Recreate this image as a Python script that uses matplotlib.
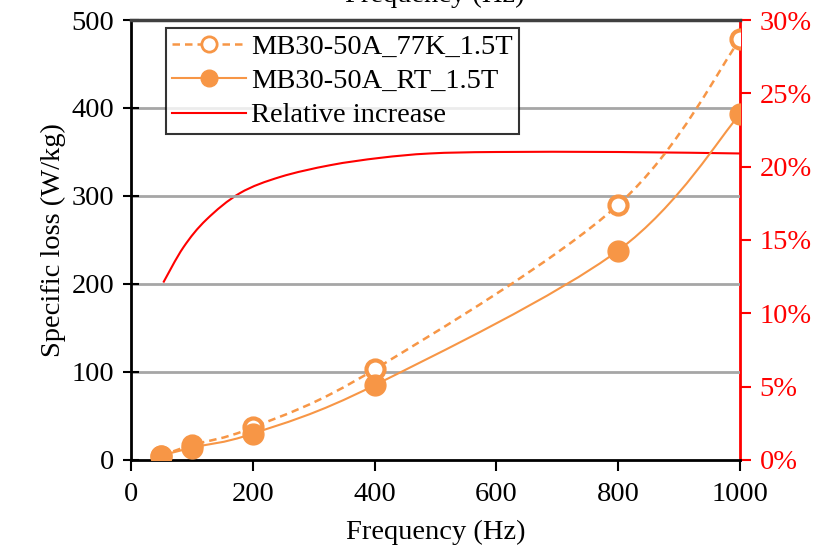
import matplotlib
matplotlib.use("Agg")
import matplotlib.pyplot as plt
from matplotlib.path import Path
from matplotlib.patches import PathPatch
from matplotlib.lines import Line2D
from matplotlib.ticker import FuncFormatter, MultipleLocator
import numpy as np

plt.rcParams['font.family'] = ['Liberation Serif', 'DejaVu Serif']

# data
freq = [50, 100, 200, 400, 800, 1000]
loss_77k = [5, 17, 37, 103, 290, 478]
loss_rt = [5, 14, 30, 85, 238, 393]

rel_freq = [53, 86, 124, 179, 245, 327, 409, 491, 600, 800, 1000]
rel_inc = [12.1, 14.5, 16.4, 18.2, 19.3, 20.1, 20.6, 20.9, 21.0, 21.0, 20.9]

ORANGE = '#F79646'
RED = '#FF0000'
FS = 20.5


def smooth_path(x, y):
    # excel style smoothed line (bezier through points)
    p = np.column_stack([x, y]).astype(float)
    n = len(p)
    verts = [p[0]]
    codes = [Path.MOVETO]
    for i in range(n - 1):
        p0 = p[i - 1] if i > 0 else p[i]
        p3 = p[i + 2] if i + 2 < n else p[i + 1]
        c1 = p[i] + (p[i + 1] - p0) / 6.0
        c2 = p[i + 1] - (p3 - p[i]) / 6.0
        verts += [c1, c2, p[i + 1]]
        codes += [Path.CURVE4] * 3
    return Path(verts, codes)


fig = plt.figure(figsize=(8.21, 5.48), dpi=100)
ax = fig.add_axes([0.1596, 0.1606, 0.7417, 0.8029])

ax.set_xlim(0, 1000)
ax.set_ylim(0, 500)
ax.xaxis.set_major_locator(MultipleLocator(200))
ax.yaxis.set_major_locator(MultipleLocator(100))

for v in [100, 200, 300, 400]:
    ax.axhline(v, color='#A6A6A6', linewidth=2, zorder=0)

ax.add_patch(PathPatch(smooth_path(freq, loss_77k), fill=False, edgecolor=ORANGE,
                       linewidth=1.8, linestyle=(0, (3, 2)), zorder=3))
ax.add_patch(PathPatch(smooth_path(freq, loss_rt), fill=False, edgecolor=ORANGE,
                       linewidth=1.5, zorder=3))
ax.plot(freq, loss_77k, linestyle='none', marker='o', markersize=13,
        markerfacecolor='white', markeredgecolor=ORANGE, markeredgewidth=3, zorder=4)
ax.plot(freq, loss_rt, linestyle='none', marker='o', markersize=15,
        markerfacecolor=ORANGE, markeredgecolor=ORANGE, zorder=5)

for s in ['left', 'bottom']:
    ax.spines[s].set_linewidth(2)
    ax.spines[s].set_color('black')
ax.spines['top'].set_color('#404040')
ax.spines['top'].set_linewidth(2.5)
ax.spines['right'].set_visible(False)

ax.tick_params(axis='both', direction='inout', length=12, width=1.5,
               labelsize=FS, colors='black')
ax.tick_params(axis='y', pad=6)
ax.tick_params(axis='x', direction='out', length=8, pad=8)

ax.set_ylabel('Specific loss (W/kg)', fontsize=FS, labelpad=4)
ax.set_xlabel('Frequency (Hz)', fontsize=FS, labelpad=0)
ax.xaxis.set_label_coords(0.5, -0.135)

ax2 = ax.twinx()
ax2.set_ylim(0, 30)
ax2.yaxis.set_major_locator(MultipleLocator(5))
ax2.yaxis.set_major_formatter(FuncFormatter(lambda v, p: '%d%%' % v))
ax2.add_patch(PathPatch(smooth_path(rel_freq, rel_inc), fill=False, edgecolor=RED,
                        linewidth=1.5, zorder=2))
for s in ['left', 'bottom', 'top']:
    ax2.spines[s].set_visible(False)
ax2.spines['right'].set_color(RED)
ax2.spines['right'].set_linewidth(2)
ax2.tick_params(axis='y', direction='out', length=8, width=1.5, colors=RED,
                labelsize=FS, pad=6)

ax.set_zorder(ax2.get_zorder() + 1)
ax.patch.set_visible(False)

handles = [
    Line2D([], [], color=ORANGE, linestyle=(0, (3, 2)), linewidth=1.8, marker='o',
           markersize=11, markerfacecolor='white', markeredgecolor=ORANGE,
           markeredgewidth=2),
    Line2D([], [], color=ORANGE, linewidth=1.5, marker='o', markersize=12,
           markerfacecolor=ORANGE, markeredgecolor=ORANGE),
    Line2D([], [], color=RED, linewidth=1.5),
]
labels = ['MB30-50A_77K_1.5T', 'MB30-50A_RT_1.5T', 'Relative increase']
leg = ax.legend(handles, labels, loc='upper left', bbox_to_anchor=(0.0575, 0.982),
                fontsize=FS, frameon=True, fancybox=False, borderpad=0.2,
                labelspacing=0.3, handlelength=2.6, handletextpad=0.2,
                borderaxespad=0)
leg.get_frame().set_edgecolor('black')
leg.get_frame().set_linewidth(1.5)

fig.text(0.53, 1.0 + 5 / 548, 'Frequency (Hz)', fontsize=FS, ha='center', va='center')

fig.savefig('out.png', dpi=100)
